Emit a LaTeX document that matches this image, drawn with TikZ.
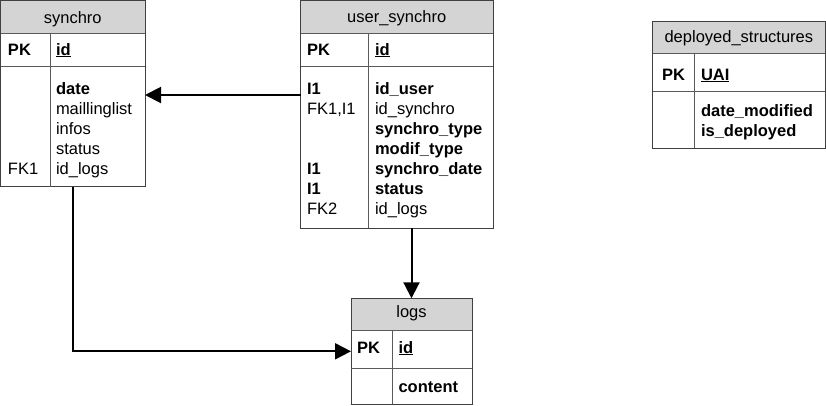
\documentclass[tikz,border=0pt]{standalone}
\usepackage{fontspec}
\setmainfont{Liberation Sans}
\usetikzlibrary{arrows.meta}
\definecolor{hdrgray}{HTML}{D4D4D4}
\definecolor{bordergray}{HTML}{404040}
\definecolor{sepgray}{HTML}{5A5A5A}
\begin{document}
\begin{tikzpicture}[x=1pt,y=-1pt,
  tbl/.style={draw=bordergray, line width=1pt, inner sep=0pt, outer sep=0pt, anchor=north west},
  hdr/.style={fill=hdrgray},
  sep/.style={draw=sepgray, line width=1pt},
  txt/.style={inner sep=0pt, outer sep=0pt, anchor=base west, font=\fontsize{16.5}{20}\selectfont},
  ttl/.style={inner sep=0pt, outer sep=0pt, anchor=base, font=\fontsize{16.5}{20}\selectfont},
  conn/.style={draw=black, line width=2pt, -{Triangle[length=16pt,width=16pt]}}
]
\useasboundingbox (0,0) rectangle (826,405);

% ---------- synchro ----------
\fill[hdr] (0.5,0.5) rectangle (145,33);
\node[tbl, minimum width=144.5pt, minimum height=186.2pt] (synchro) at (0.5,0.5) {};
\draw[sep] (0.5,33) -- (145,33) (0.5,66.5) -- (145,66.5) (50,33) -- (50,186.7);
\node[ttl] (s_title) at (72.75,23) {synchro};
\node[txt] (s_pk) at (8,55) {\textbf{PK}};
\node[txt] (s_id) at (56,55) {\textbf{\underline{id}}};
\node[txt] (s_r1) at (56,94) {\textbf{date}};
\node[txt] (s_r2) at (56,114) {maillinglist};
\node[txt] (s_r3) at (56,134) {infos};
\node[txt] (s_r4) at (56,154) {status};
\node[txt] (s_r5) at (56,174) {id\_logs};
\node[txt] (s_k5) at (8,174) {FK1};

% ---------- user_synchro ----------
\fill[hdr] (300.5,0.5) rectangle (493,33);
\node[tbl, minimum width=192.5pt, minimum height=227.5pt] (user) at (300.5,0.5) {};
\draw[sep] (300.5,33) -- (493,33) (300.5,66.7) -- (493,66.7) (368,33) -- (368,228);
\node[ttl] (u_title) at (396.75,22) {user\_synchro};
\node[txt] (u_pk) at (307,55) {\textbf{PK}};
\node[txt] (u_id) at (375,55) {\textbf{\underline{id}}};
\node[txt] (u_k1) at (307,94) {\textbf{I1}};
\node[txt] (u_r1) at (375,94) {\textbf{id\_user}};
\node[txt] (u_k2) at (307,114) {FK1,I1};
\node[txt] (u_r2) at (375,114) {id\_synchro};
\node[txt] (u_r3) at (375,134) {\textbf{synchro\_type}};
\node[txt] (u_r4) at (375,154) {\textbf{modif\_type}};
\node[txt] (u_k5) at (307,174) {\textbf{I1}};
\node[txt] (u_r5) at (375,174) {\textbf{synchro\_date}};
\node[txt] (u_k6) at (307,194) {\textbf{I1}};
\node[txt] (u_r6) at (375,194) {\textbf{status}};
\node[txt] (u_k7) at (307,214) {FK2};
\node[txt] (u_r7) at (375,214) {id\_logs};

% ---------- deployed_structures ----------
\fill[hdr] (652.7,21) rectangle (825,53.3);
\node[tbl, minimum width=172.3pt, minimum height=127.3pt] (deployed) at (652.7,21) {};
\draw[sep] (652.7,53.3) -- (825,53.3) (652.7,91.7) -- (825,91.7) (694.3,53.3) -- (694.3,148.3);
\node[ttl] (d_title) at (738.85,42) {deployed\_structures};
\node[txt] (d_pk) at (662,80) {\textbf{PK}};
\node[txt] (d_id) at (701,80) {\textbf{\underline{UAI}}};
\node[txt] (d_r1) at (701,116) {\textbf{date\_modified}};
\node[txt] (d_r2) at (701,136) {\textbf{is\_deployed}};

% ---------- logs ----------
\fill[hdr] (351,298.3) rectangle (472,330.7);
\node[tbl, minimum width=121pt, minimum height=106pt] (logs) at (351,298.3) {};
\draw[sep] (351,330.7) -- (472,330.7) (351,368.3) -- (472,368.3) (392.7,330.7) -- (392.7,404.3);
\node[ttl] (l_title) at (411.5,317) {logs};
\node[txt] (l_pk) at (357,353) {\textbf{PK}};
\node[txt] (l_id) at (398.5,353) {\textbf{\underline{id}}};
\node[txt] (l_r1) at (398.5,392) {\textbf{content}};

% ---------- connectors ----------
\draw[conn] (user.west |- 0,95) -- (synchro.east |- 0,95);
\draw[conn] (user.south -| logs.north) -- (logs.north);
\draw[conn] (synchro.south) |- (logs.west);
\end{tikzpicture}
\end{document}
